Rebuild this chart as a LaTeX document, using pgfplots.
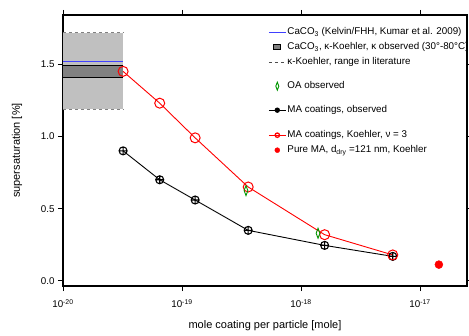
\documentclass[border=0pt]{standalone}
\usepackage{fontspec}
\setmainfont{Liberation Sans}
\usepackage{pgfplots}
\pgfplotsset{compat=1.18}
\definecolor{lgray}{RGB}{192,192,192}
\definecolor{dgray}{RGB}{128,128,128}
\definecolor{cblue}{RGB}{64,64,255}
\definecolor{cgreen}{RGB}{0,150,0}
\newcommand{\tickfont}{\fontsize{9.8bp}{12bp}\selectfont}
\newcommand{\labfont}{\fontsize{11bp}{13bp}\selectfont}
\begin{document}
\begin{tikzpicture}[x=1bp,y=1bp]
\begin{axis}[
  scale only axis, width=404bp, height=271bp,
  xmode=log, log basis x=10,
  xmin=1e-20, xmax=2.48e-17,
  ymin=-0.035, ymax=1.84,
  xtick={1e-20,1e-19,1e-18,1e-17},
  xticklabels={10\textsuperscript{-20},10\textsuperscript{-19},10\textsuperscript{-18},10\textsuperscript{-17}},
  ytick={0,0.5,1,1.5},
  yticklabel style={/pgf/number format/.cd,fixed,fixed zerofill,precision=1,assume math mode=true},
  xticklabel style={yshift=-5bp},
  minor y tick num=0,
  tick align=outside, xtick pos=both, ytick pos=both,
  major tick length=5bp, minor tick length=3bp,
  every tick/.style={black, line width=0.9bp},
  axis line style={line width=1.2bp},
  tick label style={font=\tickfont},
  label style={font=\labfont},
  xlabel={mole coating per particle [mole]},
  ylabel={supersaturation [\%]},
  xlabel style={at={(axis description cs:0.5,-0.148)}, anchor=center},
  ylabel style={at={(axis description cs:-0.114,0.5)}, anchor=center},
  legend cell align=left,
  legend style={draw=none, fill=none, at={(rel axis cs:0.50,0.965)}, anchor=north west,
    font=\fontsize{9.8bp}{10bp}\selectfont, row sep=4bp,
    nodes={text height=7bp, text depth=2bp, inner sep=1bp}},
]
% light gray literature range
\addplot[fill=lgray, draw=none, forget plot] coordinates {(1e-20,1.19) (3.2e-20,1.19) (3.2e-20,1.717) (1e-20,1.717)} -- cycle;
\addplot[dashed, black!50, line width=0.8bp, forget plot] coordinates {(1e-20,1.717) (3.2e-20,1.717)};
\addplot[dashed, black!50, line width=0.8bp, forget plot] coordinates {(1e-20,1.19) (3.2e-20,1.19)};
% observed kappa band
\addplot[fill=dgray, draw=none, forget plot] coordinates {(1e-20,1.41) (3.2e-20,1.41) (3.2e-20,1.49) (1e-20,1.49)} -- cycle;
\addplot[black, line width=1bp, forget plot] coordinates {(1e-20,1.49) (3.2e-20,1.49)};
\addplot[black, line width=1bp, forget plot] coordinates {(1e-20,1.41) (3.2e-20,1.41)};
% Kelvin
\addplot[cblue, line width=1bp, forget plot] coordinates {(1e-20,1.52) (3.2e-20,1.52)};
% MA observed
\addplot[black, line width=0.9bp, mark=oplus, mark size=4bp, mark options={line width=1.1bp}, forget plot] coordinates {
(3.2e-20,0.90) (6.5e-20,0.70) (1.29e-19,0.56) (3.6e-19,0.35) (1.58e-18,0.246) (5.9e-18,0.17)};
% MA Koehler
\addplot[red, line width=0.9bp, mark=o, mark size=5bp, mark options={line width=1bp}, forget plot] coordinates {
(3.2e-20,1.45) (6.5e-20,1.23) (1.29e-19,0.99) (3.6e-19,0.65) (1.58e-18,0.32) (5.9e-18,0.18)};
% OA observed
\addplot[only marks, cgreen, mark=diamond, mark size=5bp, mark options={xscale=0.5, line width=0.9bp}, forget plot] coordinates {
(3.45e-19,0.625) (1.39e-18,0.33)};
% Pure MA
\addplot[only marks, red, mark=*, mark size=4bp, forget plot] coordinates {(1.44e-17,0.113)};
% legend
\addlegendimage{cblue, line width=1.3bp}
\addlegendentry{CaCO\textsubscript{3} (Kelvin/FHH, Kumar et al. 2009)}
\addlegendimage{legend image code/.code={\draw[black, fill=dgray, line width=1bp] (0.18cm,-0.08cm) rectangle (0.42cm,0.08cm);}}
\addlegendentry{CaCO\textsubscript{3}, κ-Koehler, κ observed (30°-80°C)}
\addlegendimage{dashed, black!70, line width=0.6bp}
\addlegendentry{κ-Koehler, range in literature}
\addlegendimage{empty legend}
\addlegendentry[text height=3bp, text depth=0bp]{}
\addlegendimage{only marks, cgreen, mark=diamond, mark size=4bp, mark options={xscale=0.5, line width=0.9bp}}
\addlegendentry{OA observed}
\addlegendimage{empty legend}
\addlegendentry[text height=3bp, text depth=0bp]{}
\addlegendimage{black, line width=1.3bp, mark=*, mark size=2bp}
\addlegendentry{MA coatings, observed}
\addlegendimage{empty legend}
\addlegendentry[text height=4bp, text depth=0bp]{}
\addlegendimage{red, line width=1.3bp, mark=o, mark size=2.2bp}
\addlegendentry{MA coatings, Koehler, ν = 3}
\addlegendimage{only marks, red, mark=*, mark size=2.5bp}
\addlegendentry{Pure MA, d\textsubscript{dry} =121 nm, Koehler}
\coordinate (O) at (rel axis cs:0,0);
\end{axis}
\pgfresetboundingbox
\path (O) ++(-63bp,-50bp) rectangle ++(469bp,336bp);
\end{tikzpicture}
\end{document}
